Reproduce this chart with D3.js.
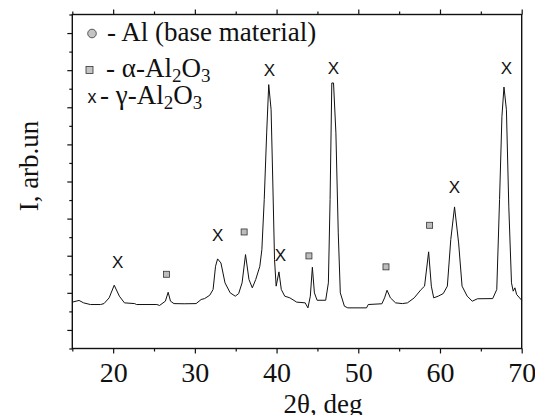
<!DOCTYPE html>
<html>
<head>
<meta charset="utf-8">
<script src="https://cdn.jsdelivr.net/npm/d3@7"></script>
<style>
  body { margin: 0; background: #fff; }
  svg { display: block; }
  .serif { font-family: 'Liberation Serif', 'Tinos', 'Times New Roman', 'DejaVu Serif', serif; }
  .sans { font-family: 'Liberation Sans', 'Arimo', Arial, sans-serif; }
</style>
</head>
<body>
<svg id="chart" width="535" height="415"></svg>
<script>
// XRD pattern, 2theta (deg) vs intensity (arb. units, in y-tick steps)
const twoTheta = [15.00, 15.83, 16.38, 17.21, 18.46, 18.88, 19.51, 20.13, 20.76, 21.38,
  22.64, 22.85, 25.35, 25.68, 26.39, 26.73, 27.02, 27.44, 28.69, 30.15,
  30.77, 31.19, 31.82, 32.23, 32.53, 32.78, 33.19, 33.69, 34.32, 34.95,
  35.36, 35.78, 36.20, 36.62, 37.03, 37.45, 37.95, 38.20, 38.49, 38.79,
  39.04, 39.33, 39.54, 39.75, 39.95, 40.29, 40.58, 41.00, 41.62, 42.46,
  43.50, 43.84, 44.13, 44.38, 44.63, 44.96, 46.01, 46.34, 46.55, 46.76,
  46.97, 47.26, 47.55, 47.80, 48.30, 48.72, 51.01, 51.22, 52.89, 53.22,
  53.52, 53.93, 54.56, 55.39, 56.02, 56.85, 57.69, 58.11, 58.61, 58.94,
  59.23, 59.78, 60.40, 60.90, 61.32, 61.78, 62.28, 62.70, 63.33, 63.95,
  64.58, 66.45, 66.95, 67.29, 67.58, 67.83, 68.13, 68.42, 68.75, 68.96,
  69.17, 69.38, 70.00];
const intensity = [2.50, 2.59, 2.46, 2.37, 2.37, 2.42, 2.73, 3.41, 2.82, 2.46,
  2.42, 2.37, 2.37, 2.32, 2.55, 3.03, 2.55, 2.42, 2.41, 2.42,
  2.64, 2.69, 2.87, 3.18, 4.43, 4.83, 4.61, 3.54, 3.00, 2.82,
  2.96, 3.54, 5.06, 3.72, 3.27, 3.72, 4.43, 5.33, 8.03, 11.62,
  14.22, 12.87, 8.92, 4.79, 3.36, 4.13, 3.18, 2.82, 2.73, 2.50,
  2.46, 2.19, 2.82, 4.38, 3.00, 2.60, 2.60, 3.54, 8.03, 14.31,
  14.31, 11.62, 6.23, 3.00, 2.28, 2.19, 2.19, 2.37, 2.41, 2.73,
  3.14, 2.73, 2.46, 2.42, 2.46, 2.73, 3.18, 3.36, 5.21, 3.36,
  2.73, 2.82, 2.96, 3.36, 5.87, 7.63, 5.69, 3.36, 2.82, 2.55,
  2.68, 2.69, 3.18, 8.03, 12.51, 14.09, 12.87, 7.67, 3.54, 3.09,
  3.27, 2.91, 2.60];

// phase markers
const gammaX = [20.55, 32.78, 39.12, 40.46, 46.97, 61.78, 68.12];
const gammaY = [4.61, 6.10, 15.00, 5.03, 15.07, 8.69, 15.08];
const alphaX = [26.52, 36.03, 43.96, 53.39, 58.73];
const alphaY = [4.00, 6.28, 4.99, 4.40, 6.64];

const xTicks = d3.range(15, 71, 5);
const xLabels = [20, 30, 40, 50, 60, 70];
const yTicks = d3.range(0, 19, 1);

const svg = d3.select('#chart');
const m = { left: 72.3, right: 521.7, top: 14.5, bottom: 348.5 };

const x = d3.scaleLinear().domain([15, 70]).range([m.left, m.right]);
const y = d3.scaleLinear().domain([0, 18]).range([m.bottom, m.top]);

const tickLenX = d => (d % 10 === 0 ? 5 : 3);
const tickLenY = d => (d % 2 === 1 ? 5 : 3);

// frame
svg.append('rect')
  .attr('x', m.left).attr('y', m.top)
  .attr('width', m.right - m.left).attr('height', m.bottom - m.top)
  .attr('fill', 'none').attr('stroke', '#111').attr('stroke-width', 1.4);

// bottom axis
const gB = svg.append('g').attr('transform', `translate(0,${m.bottom})`)
  .call(d3.axisBottom(x).tickValues(xTicks).tickSize(0).tickFormat(''));
gB.attr('font-family', null);
gB.select('.domain').remove();
gB.selectAll('.tick line').attr('y2', tickLenX).attr('stroke', '#111').attr('stroke-width', 1.2);
gB.selectAll('.tick text')
  .text(d => (xLabels.includes(d) ? d : ''))
  .attr('class', 'serif')
  .attr('y', 33).attr('dy', 0)
  .attr('font-size', 28).attr('fill', '#111');

// top axis
const gT = svg.append('g').attr('transform', `translate(0,${m.top})`)
  .call(d3.axisTop(x).tickValues(xTicks).tickSize(0).tickFormat(''));
gT.select('.domain').remove();
gT.selectAll('.tick line').attr('y2', d => -tickLenX(d)).attr('stroke', '#111').attr('stroke-width', 1.2);

// left axis
const gL = svg.append('g').attr('transform', `translate(${m.left},0)`)
  .call(d3.axisLeft(y).tickValues(yTicks).tickSize(0).tickFormat(''));
gL.select('.domain').remove();
gL.selectAll('.tick line').attr('x2', d => -tickLenY(d)).attr('stroke', '#111').attr('stroke-width', 1.2);

// axis titles
svg.append('text').attr('class', 'serif')
  .attr('x', 323).attr('y', 413)
  .attr('text-anchor', 'middle').attr('font-size', 27).attr('fill', '#111')
  .text('2θ, deg');
svg.append('text').attr('class', 'serif')
  .attr('transform', 'translate(38,166) rotate(-90)')
  .attr('text-anchor', 'middle').attr('font-size', 27).attr('fill', '#111')
  .text('I, arb.un');

// pattern
const line = d3.line().x((d, i) => x(twoTheta[i])).y(d => y(d));
svg.append('path')
  .datum(intensity)
  .attr('d', line)
  .attr('fill', 'none').attr('stroke', '#111').attr('stroke-width', 1)
  .attr('stroke-linejoin', 'round');

// markers
svg.append('g').selectAll('rect').data(alphaX).join('rect')
  .attr('x', d => x(d) - 3).attr('y', (d, i) => y(alphaY[i]) - 3)
  .attr('width', 6).attr('height', 6)
  .attr('fill', '#bdbdbd').attr('stroke', '#333').attr('stroke-width', 0.8);

svg.append('g').selectAll('text').data(gammaX).join('text')
  .attr('class', 'sans')
  .attr('x', d => x(d)).attr('y', (d, i) => y(gammaY[i]))
  .attr('text-anchor', 'middle').attr('dominant-baseline', 'central')
  .attr('font-size', 17)
  .attr('fill', '#111')
  .text('X');

// legend
const lg = svg.append('g').attr('fill', '#111').attr('font-size', 27);
lg.append('circle').attr('cx', 92).attr('cy', 33.5).attr('r', 4.3)
  .attr('fill', '#c4c4c4').attr('stroke', '#333').attr('stroke-width', 0.8);
lg.append('text').attr('class', 'serif').attr('x', 107).attr('y', 41).text('- Al (base material)');

lg.append('rect').attr('x', 86).attr('y', 66.5).attr('width', 7).attr('height', 7)
  .attr('fill', '#c4c4c4').attr('stroke', '#333').attr('stroke-width', 0.8);
const t2 = lg.append('text').attr('class', 'serif').attr('x', 106).attr('y', 77);
t2.append('tspan').text('- α-Al');
t2.append('tspan').attr('font-size', 19).attr('dy', 5).text('2');
t2.append('tspan').attr('dy', -5).text('O');
t2.append('tspan').attr('font-size', 19).attr('dy', 5).text('3');

lg.append('text').attr('class', 'sans').attr('x', 92).attr('y', 103)
  .attr('text-anchor', 'middle').attr('font-size', 18)
  .text('x');
const t3 = lg.append('text').attr('class', 'serif').attr('x', 100).attr('y', 104);
t3.append('tspan').text('- γ-Al');
t3.append('tspan').attr('font-size', 19).attr('dy', 5).text('2');
t3.append('tspan').attr('dy', -5).text('O');
t3.append('tspan').attr('font-size', 19).attr('dy', 5).text('3');
</script>
</body>
</html>
